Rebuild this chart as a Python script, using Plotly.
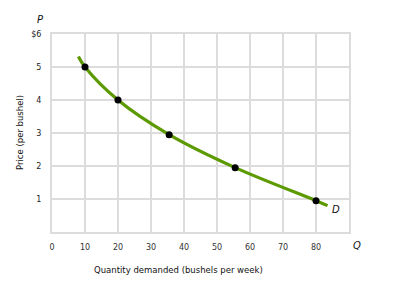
import plotly.graph_objects as go

# Data
point_q = [10, 20, 35.5, 55.5, 80]
point_p = [5.0, 4.0, 2.95, 1.95, 0.95]
curve_q = [8, 10, 20, 35.5, 55.5, 80, 83.5]
curve_p = [5.32, 5.0, 4.0, 2.95, 1.95, 0.95, 0.8]
x_ticks = [0, 10, 20, 30, 40, 50, 60, 70, 80]
x_tick_text = ["0", "10", "20", "30", "40", "50", "60", "70", "80"]
y_ticks = [1, 2, 3, 4, 5, 6]
y_tick_text = ["1", "2", "3", "4", "5", "$6"]

FONT = "DejaVu Sans, Open Sans, sans-serif"
GRID = "#dcdcdc"

fig = go.Figure()
fig.add_trace(go.Scatter(x=curve_q, y=curve_p, mode="lines",
                         line=dict(color="#5c9a00", width=3.2, shape="spline"),
                         hoverinfo="skip"))
fig.add_trace(go.Scatter(x=point_q, y=point_p, mode="markers",
                         marker=dict(color="black", size=7)))

fig.update_layout(
    width=394, height=288,
    margin=dict(l=52, r=45, t=34, b=56),
    paper_bgcolor="white", plot_bgcolor="white",
    showlegend=False,
    font=dict(family=FONT, size=8, color="#333333"),
    xaxis=dict(range=[0, 90], tickvals=x_ticks, ticktext=x_tick_text,
               showgrid=True, gridcolor=GRID, gridwidth=2,
               showline=True, linecolor=GRID, linewidth=2, mirror=True,
               zeroline=False, ticks="outside", ticklen=6,
               tickcolor="rgba(0,0,0,0)", tickfont=dict(size=8, color="#333333")),
    yaxis=dict(range=[0, 6], tickvals=y_ticks, ticktext=y_tick_text,
               showgrid=True, gridcolor=GRID, gridwidth=2,
               showline=True, linecolor=GRID, linewidth=2, mirror=True,
               zeroline=False, ticks="outside", ticklen=7,
               tickcolor="rgba(0,0,0,0)", tickfont=dict(size=8, color="#222222")),
)

annots = [
    dict(text="<i>P</i>", x=40, y=19, size=10),
    dict(text="<i>Q</i>", x=357, y=245, size=10),
    dict(text="<i>D</i>", x=336, y=209, size=10),
    dict(text="Quantity demanded (bushels per week)", x=178, y=270, size=8.5),
    dict(text="Price (per bushel)", x=20, y=133, size=8.5, angle=-90),
]
for a in annots:
    fig.add_annotation(text=a["text"], x=a["x"] / 394, y=1 - a["y"] / 288,
                       xref="paper", yref="paper", xanchor="center", yanchor="middle",
                       showarrow=False, textangle=a.get("angle", 0),
                       font=dict(family=FONT, size=a.get("size", 9), color="#111111"))

for ann in fig.layout.annotations:
    px = ann.x * 394
    py = (1 - ann.y) * 288
    ann.x = (px - 52) / (394 - 52 - 45)
    ann.y = 1 - (py - 34) / (288 - 34 - 56)

fig.write_html("out.html")
